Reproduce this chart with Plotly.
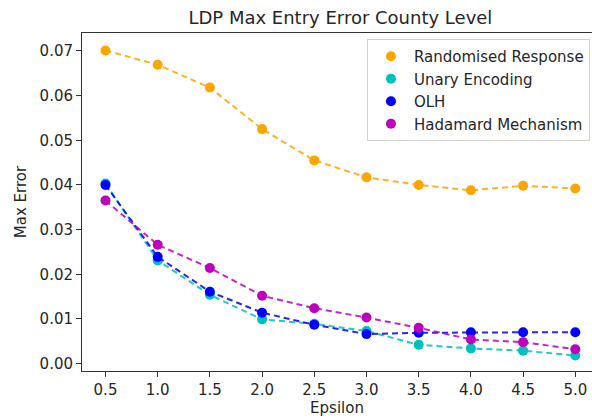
import plotly.graph_objects as go

epsilon = [0.5, 1.0, 1.5, 2.0, 2.5, 3.0, 3.5, 4.0, 4.5, 5.0]

randomised_response = [0.0701, 0.0669, 0.0618, 0.0525, 0.0455, 0.0417, 0.0400, 0.0388, 0.0398, 0.0392]
unary_encoding = [0.0403, 0.0231, 0.0154, 0.0099, 0.0089, 0.0073, 0.0042, 0.0034, 0.0029, 0.0018]
olh = [0.0400, 0.0239, 0.0161, 0.0114, 0.0087, 0.0066, 0.0069, 0.0070, 0.0070, 0.0070]
hadamard = [0.0365, 0.0266, 0.0214, 0.0152, 0.0124, 0.0103, 0.0080, 0.0054, 0.0048, 0.0032]

y_ticks = [0.0, 0.01, 0.02, 0.03, 0.04, 0.05, 0.06, 0.07]

series = [
    ("Randomised Response", randomised_response, "#FFA500"),
    ("Unary Encoding", unary_encoding, "#00BFBF"),
    ("OLH", olh, "#0000FF"),
    ("Hadamard Mechanism", hadamard, "#BF00BF"),
]

FONT = "DejaVu Sans"
TXT = "#262626"
AX = "#333333"

fig = go.Figure()
for name, values, color in series:
    # dashed connecting line (kept out of the legend)
    fig.add_trace(go.Scatter(
        x=epsilon, y=values, mode="lines", showlegend=False,
        line=dict(color=color, width=2, dash="6px,4px"), opacity=0.85,
        hoverinfo="skip",
    ))
    # markers, shown in the legend
    fig.add_trace(go.Scatter(
        x=epsilon, y=values, mode="markers", name=name,
        marker=dict(color=color, size=10, line=dict(width=0)),
    ))

tick_font = dict(family=FONT, size=15, color=TXT)

fig.update_layout(
    width=592, height=419,
    margin=dict(l=82, r=0, t=33, b=48),
    paper_bgcolor="white", plot_bgcolor="white",
    font=dict(family=FONT, color=TXT),
    title=dict(text="LDP Max Entry Error County Level", x=0.575, xanchor="center",
               y=0.957, yanchor="middle", font=dict(family=FONT, size=18, color=TXT)),
    xaxis=dict(range=[0.275, 5.16], tickvals=epsilon,
               ticktext=[f"{e:.1f}" for e in epsilon],
               showgrid=False, zeroline=False, showline=True, mirror=True,
               linecolor=AX, linewidth=1, ticks="outside", ticklen=5, tickcolor=AX,
               tickfont=tick_font,
               title=dict(text="Epsilon", font=dict(family=FONT, size=15, color=TXT), standoff=3)),
    yaxis=dict(range=[-0.00166, 0.07402], tickvals=y_ticks,
               ticktext=[f"{v:.2f}" for v in y_ticks],
               showgrid=False, zeroline=False, showline=True, mirror=False,
               linecolor=AX, linewidth=1, ticks="outside", ticklen=5, tickcolor=AX,
               tickfont=tick_font,
               title=dict(text="Max Error", font=dict(family=FONT, size=15, color=TXT), standoff=9)),
    legend=dict(x=0.996, xanchor="right", y=0.982, yanchor="top",
                bordercolor="#d0d0d0", borderwidth=1, bgcolor="rgba(255,255,255,0.8)",
                font=dict(family=FONT, size=15, color=TXT),
                itemwidth=36, tracegroupgap=0),
)

fig.write_html("out.html")
